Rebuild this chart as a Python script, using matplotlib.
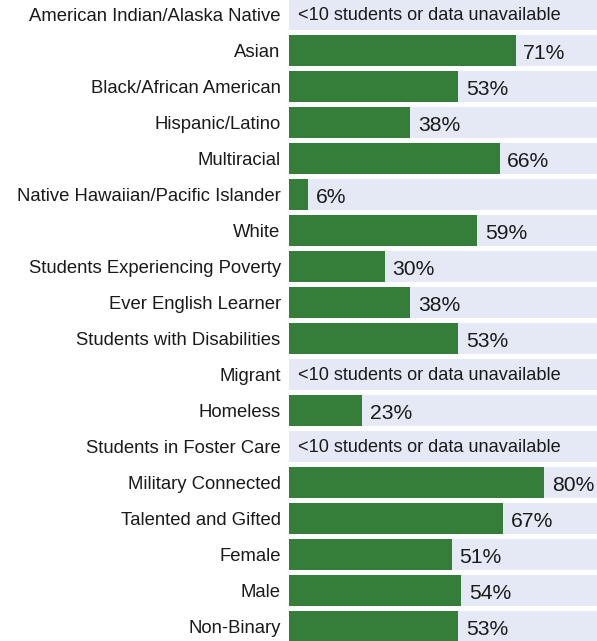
import matplotlib
matplotlib.use("Agg")
import matplotlib.pyplot as plt
import numpy as np

categories = ["American Indian/Alaska Native", "Asian", "Black/African American",
              "Hispanic/Latino", "Multiracial", "Native Hawaiian/Pacific Islander",
              "White", "Students Experiencing Poverty", "Ever English Learner",
              "Students with Disabilities", "Migrant", "Homeless",
              "Students in Foster Care", "Military Connected", "Talented and Gifted",
              "Female", "Male", "Non-Binary"]
values = [None, 71, 53, 38, 66, 6, 59, 30, 38, 53, None, 23, None, 80, 67, 51, 54, 53]
missing_text = "<10 students or data unavailable"

plt.rcParams['font.family'] = ['Liberation Sans', 'DejaVu Sans']

fig = plt.figure(figsize=(5.97, 6.41), dpi=100)
W, H = 597, 641
ax = fig.add_axes([289 / W, 0, (597 - 289) / W, 1])

n = len(categories)
y = np.arange(n)
green = '#357E3A'
bg = '#E5E8F5'
bh = 0.853

ax.barh(y, [100] * n, height=bh, color=bg, zorder=1)
for i, v in enumerate(values):
    if v is None:
        ax.text(2.7, i + 0.04, missing_text, va='center', ha='left', fontsize=13.1,
                color='#1a1a1a', zorder=3)
    else:
        ax.barh(i, v, height=bh, color=green, zorder=2)
        ax.text(v + 2.4, i + 0.1, f"{v}%", va='center', ha='left', fontsize=15.2,
                color='#1a1a1a', zorder=3)

ax.set_xlim(0, 96.5)
ax.set_ylim(17.407, -0.399)
ax.set_yticks(y)
ax.set_yticklabels(categories, fontsize=13.3, color='#1a1a1a')
ax.tick_params(axis='y', length=0, pad=6)
ax.set_xticks([])
for s in ax.spines.values():
    s.set_visible(False)

fig.savefig("out.png", dpi=100)
